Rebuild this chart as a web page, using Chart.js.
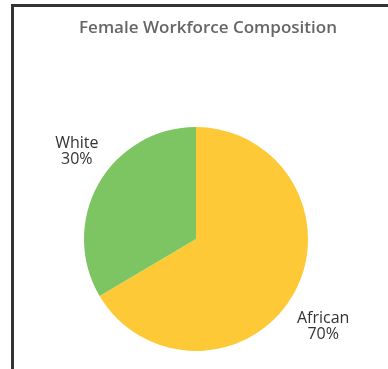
<!DOCTYPE html>
<html>
<head>
<meta charset="utf-8">
<script src="https://cdn.jsdelivr.net/npm/chart.js@4"></script>
<style>
  html, body { margin: 0; padding: 0; background: #fff; }
  #wrap { position: relative; width: 388px; height: 369px; overflow: hidden; }
  #frame { position: absolute; left: 11px; top: 4px; width: 400px; height: 400px;
           border-left: 3px solid #333; border-top: 3px solid #333; box-sizing: border-box; }
  canvas { position: absolute; left: 0; top: 0; }
</style>
</head>
<body>
<div id="wrap">
  <div id="frame"></div>
  <canvas id="pie" width="388" height="369"></canvas>
</div>
<script>
var chartTitle = 'Female Workforce Composition';
var groups = ['African', 'White'];
var shares = [66.5, 33.5];
var shareLabels = ['70%', '30%'];
var colours = ['#fdc936', '#7dc462'];

// title sits right of the pie's centre in the original, so draw it by hand
var titleText = {
  id: 'titleText',
  afterDraw: function (chart) {
    var ctx = chart.ctx;
    ctx.save();
    ctx.font = '600 17px "Open Sans"';
    ctx.fillStyle = '#666';
    ctx.textAlign = 'center';
    ctx.textBaseline = 'middle';
    ctx.fillText(chartTitle, 208, 28, 262);
    ctx.restore();
  }
};

// names + percentages drawn outside each slice
var outsideLabels = {
  id: 'outsideLabels',
  afterDatasetsDraw: function (chart) {
    var ctx = chart.ctx;
    var arcs = chart.getDatasetMeta(0).data;
    ctx.save();
    ctx.font = '16px "Open Sans"';
    ctx.fillStyle = '#333';
    ctx.textAlign = 'center';
    ctx.textBaseline = 'middle';
    arcs.forEach(function (arc, i) {
      var mid = (arc.startAngle + arc.endAngle) / 2 + 0.1;
      var d = arc.outerRadius * 1.35;
      var x = arc.x + Math.cos(mid) * d + 4;
      var y = arc.y + Math.sin(mid) * d;
      ctx.fillText(groups[i], x, y - 8);
      ctx.fillText(shareLabels[i], x, y + 8);
    });
    ctx.restore();
  }
};

var pieChart = new Chart(document.getElementById('pie'), {
  type: 'pie',
  data: {
    labels: groups,
    datasets: [{
      data: shares,
      backgroundColor: colours,
      borderWidth: 0
    }]
  },
  options: {
    responsive: false,
    animation: false,
    layout: { padding: { left: 4, right: 0, top: 127, bottom: 18 } },
    plugins: {
      legend: { display: false },
      tooltip: { enabled: false },
      title: { display: false }
    }
  },
  plugins: [titleText, outsideLabels]
});
</script>
</body>
</html>
